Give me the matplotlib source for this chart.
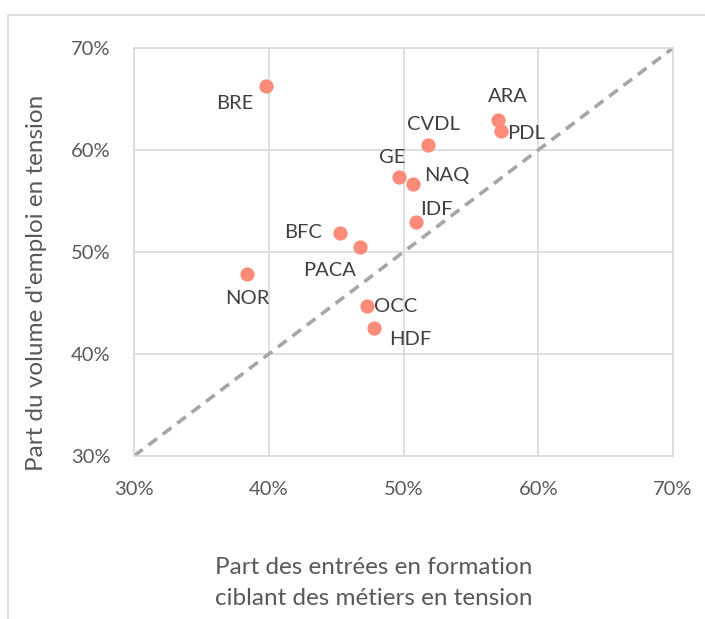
import matplotlib.pyplot as plt
from matplotlib.patches import Rectangle
from matplotlib.ticker import PercentFormatter

plt.rcParams['font.family'] = ['Lato', 'DejaVu Sans']

# Régions
regions = ['BRE', 'ARA', 'PDL', 'CVDL', 'GE', 'NAQ', 'IDF', 'BFC', 'PACA', 'NOR', 'OCC', 'HDF']
# Part des entrées en formation ciblant des métiers en tension (%)
part_formation = [39.8, 57.0, 57.2, 51.8, 49.7, 50.7, 50.9, 45.3, 46.8, 38.4, 47.3, 47.8]
# Part du volume d'emploi en tension (%)
part_emploi = [66.3, 62.9, 61.9, 60.5, 57.4, 56.7, 52.9, 51.9, 50.5, 47.8, 44.7, 42.5]

# label placement (offset in points, alignment)
label_pos = {
    'BRE': ((-9, -13), 'right'),
    'ARA': ((7, 17), 'center'),
    'PDL': ((5, -2), 'left'),
    'CVDL': ((4, 15), 'center'),
    'GE': ((-5, 14), 'center'),
    'NAQ': ((8, 6), 'left'),
    'IDF': ((3, 9), 'left'),
    'BFC': ((-13, 0), 'right'),
    'PACA': ((-22, -17), 'center'),
    'NOR': ((0, -17), 'center'),
    'OCC': ((5, 0), 'left'),
    'HDF': ((11, -8), 'left'),
}

fig = plt.figure(figsize=(7.05, 6.19), dpi=100)
ax = fig.add_axes([134 / 705, 1 - 456 / 619, 539 / 705, 408 / 619])

# outer chart frame
fig.patches.append(Rectangle((8 / 705, -0.1), 1.2, 1 - 15 / 619 + 0.1, transform=fig.transFigure,
                             fill=False, edgecolor='#D9D9D9', lw=1.2, zorder=0))

ax.plot([30, 70], [30, 70], color='#A6A6A6', lw=2.6, ls=(0, (3, 2)), zorder=2)
ax.scatter(part_formation, part_emploi, s=105, color='#FC8B7A', zorder=3, linewidths=0)

for name, x, y in zip(regions, part_formation, part_emploi):
    off, ha = label_pos[name]
    ax.annotate(name, (x, y), xytext=off, textcoords='offset points', ha=ha, va='center',
                fontsize=14.5, color='#404040', zorder=4)

ax.set_xlim(30, 70)
ax.set_ylim(30, 70)
ax.set_xticks([30, 40, 50, 60, 70])
ax.set_yticks([30, 40, 50, 60, 70])
ax.xaxis.set_major_formatter(PercentFormatter(decimals=0))
ax.yaxis.set_major_formatter(PercentFormatter(decimals=0))
ax.grid(True, color='#D9D9D9', lw=1.2)
ax.set_axisbelow(True)
for s in ax.spines.values():
    s.set_color('#D9D9D9')
    s.set_linewidth(1.2)
ax.tick_params(length=0, labelsize=14.5, labelcolor='#595959')
ax.tick_params(axis='x', pad=18)
ax.tick_params(axis='y', pad=17)

# axis titles
fig.text(374 / 705, 1 - 583 / 619, "Part des entrées en formation\nciblant des métiers en tension",
         fontsize=17.5, color='#595959', ha='center', va='center', linespacing=1.55)
fig.text(37 / 705, 1 - 283 / 619, "Part du volume d'emploi en tension", rotation=90,
         fontsize=17.5, color='#595959', ha='center', va='center')

fig.savefig('out.png', dpi=100)
